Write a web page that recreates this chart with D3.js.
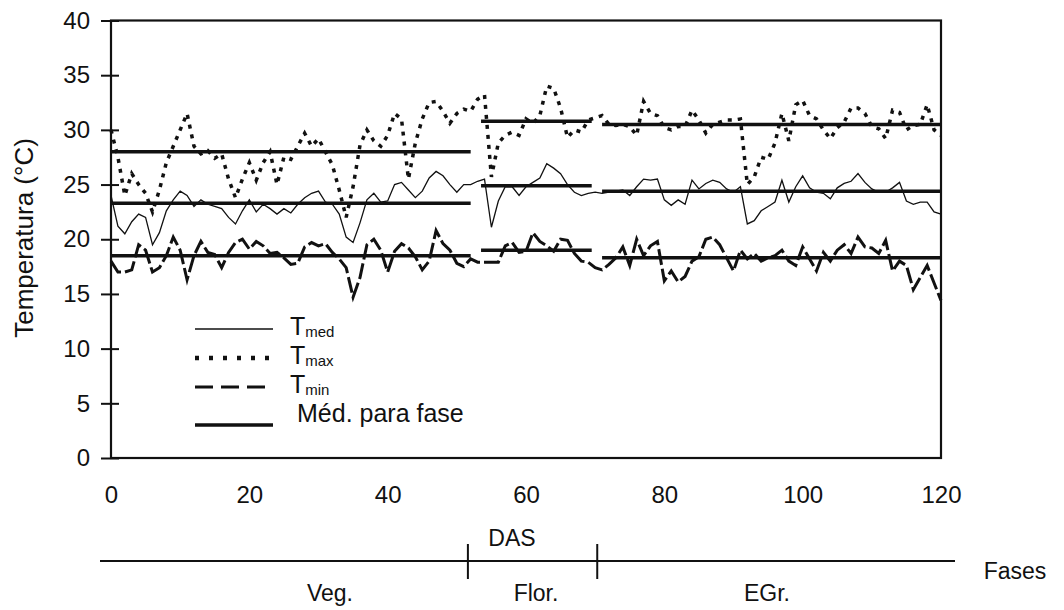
<!DOCTYPE html>
<html>
<head>
<meta charset="utf-8">
<script src="https://cdn.jsdelivr.net/npm/d3@7"></script>
<style>
  body { margin: 0; background: #fff; }
  svg { font-family: "Liberation Sans", Arial, sans-serif; }
</style>
</head>
<body>
<div id="graph"></div>
<script>
// daily temperatures, day 0..120 (DAS)
var tmax = [30.0,27.5,24.0,26.0,25.0,24.2,22.5,24.5,27.0,28.5,30.0,31.5,28.5,27.8,28.1,27.4,27.8,25.5,23.8,25.5,
  27.0,25.4,27.0,28.0,25.0,27.5,27.3,28.5,29.7,28.5,29.2,28.0,26.8,24.5,22.0,24.8,28.6,30.0,29.0,28.5,
  29.5,31.5,31.0,25.5,28.8,31.0,32.5,32.6,31.7,30.6,31.5,31.9,31.7,32.8,33.2,25.7,28.8,29.5,29.8,29.5,
  31.0,30.6,31.3,34.0,33.8,32.0,29.3,30.0,29.8,30.9,31.1,31.3,30.5,30.4,30.5,30.3,29.5,32.6,31.5,31.3,
  30.2,30.0,30.3,30.3,31.8,30.9,29.7,30.5,30.7,30.9,30.9,31.0,25.0,25.7,27.5,27.3,28.8,31.5,29.0,32.3,
  32.7,31.3,31.0,30.0,29.2,30.2,30.7,32.0,32.0,31.5,30.3,30.1,29.2,31.8,31.6,30.0,30.4,30.5,32.3,30.0,29.5];
var tmed = [24.0,21.2,20.5,21.6,22.3,22.0,19.5,20.6,22.6,23.6,24.4,24.0,23.0,23.6,23.2,23.0,22.8,22.0,21.4,22.6,
  23.6,22.5,23.2,22.8,22.3,22.8,22.4,23.2,23.8,24.2,24.4,23.4,23.2,22.3,20.2,19.7,21.5,23.6,24.2,23.4,
  23.5,25.0,25.2,24.5,23.8,24.4,25.6,26.2,25.8,25.0,24.3,25.0,25.0,25.3,25.5,21.1,23.5,24.8,24.8,24.0,
  24.8,25.2,25.6,26.9,26.5,26.0,25.0,24.3,24.0,24.2,24.3,24.2,24.3,24.4,24.5,24.0,24.8,25.5,25.4,25.5,
  23.6,23.1,23.6,23.2,25.4,24.6,25.1,25.4,25.2,24.6,24.3,24.8,21.4,21.7,22.6,23.0,23.4,25.4,23.4,24.8,
  25.8,24.7,24.3,24.2,23.7,24.7,25.1,25.3,26.0,25.2,24.6,24.3,24.3,24.7,25.2,23.5,23.2,23.4,23.4,22.5,22.3];
var tmin = [18.0,17.0,17.0,17.2,19.5,19.0,17.0,17.4,18.5,20.2,19.0,16.3,18.5,19.8,18.8,18.6,17.4,18.8,19.7,20.0,
  19.1,19.8,19.4,18.7,18.8,18.3,17.7,17.8,19.3,19.7,19.4,19.6,18.8,18.2,17.4,14.7,16.5,19.5,20.0,19.0,
  17.0,18.9,19.6,19.2,18.4,17.2,18.0,20.8,19.6,19.0,17.8,17.5,18.2,17.9,17.9,17.9,17.9,19.4,19.7,18.8,
  18.9,20.6,19.8,19.4,18.9,20.0,19.9,18.7,18.0,17.9,17.4,17.2,17.7,18.3,19.3,17.6,20.0,18.5,19.4,19.8,
  16.2,17.1,16.1,16.6,18.0,18.4,20.0,20.2,19.5,18.3,17.1,19.0,18.2,18.7,18.0,18.3,18.5,19.0,18.0,17.6,
  19.3,18.2,17.1,18.8,18.0,19.0,19.5,18.7,20.2,19.3,19.2,18.7,19.9,17.1,18.0,17.6,15.4,16.5,17.6,16.0,14.4];

// phases: name, start day, end day
var phaseNames = ["Veg.", "Flor.", "EGr."];
var phaseStart = [0, 53.5, 71];
var phaseEnd   = [52, 69.5, 120];
var phaseBreaks = [51.6, 70.3];
var meanTmax = [28.0, 30.8, 30.5];
var meanTmed = [23.3, 24.9, 24.4];
var meanTmin = [18.5, 19.0, 18.3];

var yTicks = [0, 5, 10, 15, 20, 25, 30, 35, 40];
var xTicks = [0, 20, 40, 60, 80, 100, 120];

var W = 1064, H = 610;
var plot = {left: 111, right: 941, top: 20.5, bottom: 458};

var xScale = d3.scaleLinear().domain([0, 120]).range([plot.left, plot.right]);
var yScale = d3.scaleLinear().domain([0, 40]).range([plot.bottom, plot.top]);

var svg = d3.select("#graph").append("svg")
    .attr("width", W)
    .attr("height", H);

var line = d3.line()
    .x(function(d, i) { return xScale(i); })
    .y(function(d) { return yScale(d); });

// series
svg.append("path").datum(tmed)
    .attr("d", line).attr("fill", "none")
    .attr("stroke", "#111").attr("stroke-width", 1.3);
svg.append("path").datum(tmax)
    .attr("d", line).attr("fill", "none")
    .attr("stroke", "#111").attr("stroke-width", 3.5)
    .attr("stroke-dasharray", "4,6");
svg.append("path").datum(tmin)
    .attr("d", line).attr("fill", "none")
    .attr("stroke", "#111").attr("stroke-width", 3)
    .attr("stroke-dasharray", "16,4");

// phase means
[meanTmax, meanTmed, meanTmin].forEach(function(arr) {
  svg.selectAll(null)
      .data(arr)
      .enter()
      .append("line")
      .attr("x1", function(d, i) { return xScale(phaseStart[i]); })
      .attr("x2", function(d, i) { return xScale(phaseEnd[i]); })
      .attr("y1", function(d) { return yScale(d); })
      .attr("y2", function(d) { return yScale(d); })
      .attr("stroke", "#111")
      .attr("stroke-width", 3.5);
});

// frame
svg.append("rect")
    .attr("x", plot.left).attr("y", plot.top)
    .attr("width", plot.right - plot.left).attr("height", plot.bottom - plot.top)
    .attr("fill", "none").attr("stroke", "#111").attr("stroke-width", 2.2);

// y axis
var yAxis = d3.axisLeft(yScale).tickValues(yTicks).tickSize(18).tickPadding(11);
var gy = svg.append("g")
    .attr("transform", "translate(" + (plot.left + 8) + ",0)")
    .call(yAxis);
gy.select(".domain").remove();
gy.selectAll(".tick line").attr("stroke", "#111").attr("stroke-width", 2);
gy.selectAll(".tick text")
    .style("font-size", "24px").attr("fill", "#111");

// x axis labels (no tick marks)
var xAxis = d3.axisBottom(xScale).tickValues(xTicks).tickSize(0).tickPadding(28);
var gx = svg.append("g")
    .attr("transform", "translate(0," + plot.bottom + ")")
    .call(xAxis);
gx.select(".domain").remove();
gx.selectAll(".tick text")
    .style("font-size", "24px").attr("fill", "#111");

// y title
svg.append("text")
    .attr("transform", "translate(33,238) rotate(-90)")
    .style("text-anchor", "middle")
    .style("font-size", "26px")
    .attr("fill", "#111")
    .text("Temperatura (°C)");

svg.append("text")
    .attr("x", 512).attr("y", 546)
    .style("text-anchor", "middle")
    .style("font-size", "23px")
    .attr("fill", "#111")
    .text("DAS");

// phases bar
var phaseY = 561;
svg.append("line")
    .attr("x1", 100).attr("x2", 955)
    .attr("y1", phaseY).attr("y2", phaseY)
    .attr("stroke", "#111").attr("stroke-width", 2.2);
svg.selectAll(null)
    .data(phaseBreaks)
    .enter()
    .append("line")
    .attr("x1", function(d) { return xScale(d); })
    .attr("x2", function(d) { return xScale(d); })
    .attr("y1", phaseY - 17).attr("y2", phaseY + 18)
    .attr("stroke", "#111").attr("stroke-width", 2);
var phaseLabelX = [330, 536, 767];
svg.selectAll(null)
    .data(phaseNames)
    .enter()
    .append("text")
    .attr("x", function(d, i) { return phaseLabelX[i]; })
    .attr("y", 601)
    .style("text-anchor", "middle")
    .style("font-size", "23px")
    .attr("fill", "#111")
    .text(function(d) { return d; });
svg.append("text")
    .attr("x", 1015).attr("y", 579)
    .style("text-anchor", "middle")
    .style("font-size", "23px")
    .attr("fill", "#111")
    .text("Fases");

// legend
var legendRows = [
  {sub: "med", y: 329, width: 1.3, dash: null},
  {sub: "max", y: 358, width: 4.5, dash: "4,10"},
  {sub: "min", y: 387, width: 3, dash: "18,8"},
  {sub: null, y: 425, width: 3.5, dash: null}
];
legendRows.forEach(function(r) {
  var l = svg.append("line")
      .attr("x1", 195).attr("x2", 273)
      .attr("y1", r.y).attr("y2", r.y)
      .attr("stroke", "#111").attr("stroke-width", r.width);
  if (r.dash) l.attr("stroke-dasharray", r.dash);
  var t = svg.append("text")
      .attr("x", 290)
      .attr("fill", "#111")
      .style("font-size", "25px");
  if (r.sub) {
    t.attr("y", r.y + 6).text("T");
    t.append("tspan").attr("dy", 2).style("font-size", "15px").text(r.sub);
  } else {
    t.attr("x", 297).attr("y", r.y - 3).text("Méd. para fase");
  }
});
</script>
</body>
</html>
